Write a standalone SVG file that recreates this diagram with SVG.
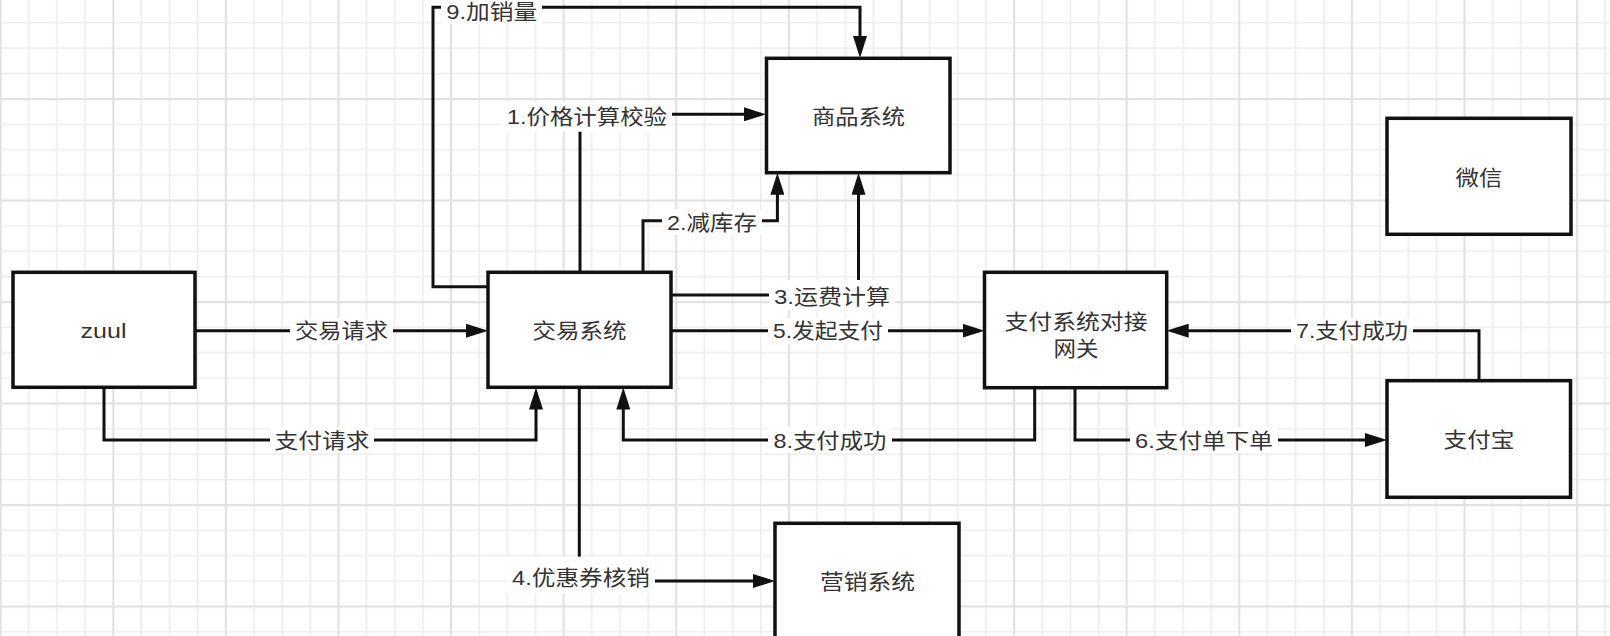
<svg xmlns="http://www.w3.org/2000/svg" width="1610" height="636" viewBox="0 0 1610 636">
<style>
.node rect{fill:#fff;stroke:#111;stroke-width:3.5}
.nt{font-family:"Liberation Sans","Noto Sans CJK SC",sans-serif;font-size:21px;fill:#333;text-anchor:middle;dominant-baseline:central}
.edge{fill:none;stroke:#111;stroke-width:3}
.lbg{fill:#fff}
.arrow{marker-end:url(#ah)}
</style>
<defs>
<pattern id="grid" patternUnits="userSpaceOnUse" x="-13.3" y="-15.5" width="112.6" height="101.5">
<g stroke="#ededed" stroke-width="1.6">
<line x1="42.15" y1="0" x2="42.15" y2="101.5"/>
<line x1="70.3" y1="0" x2="70.3" y2="101.5"/>
<line x1="98.45" y1="0" x2="98.45" y2="101.5"/>
<line x1="0" y1="38.375" x2="112.6" y2="38.375"/>
<line x1="0" y1="63.75" x2="112.6" y2="63.75"/>
<line x1="0" y1="89.125" x2="112.6" y2="89.125"/>
</g>
<g stroke="#e2e2e2" stroke-width="2.2">
<line x1="14" y1="0" x2="14" y2="101.5"/>
<line x1="0" y1="13" x2="112.6" y2="13"/>
</g>
</pattern>
<marker id="ah" markerUnits="userSpaceOnUse" markerWidth="22" markerHeight="14" refX="17" refY="7" orient="auto">
<path d="M0,0 L22,7 L0,14 z" fill="#111"/>
</marker>
</defs>
<rect x="0" y="0" width="1610" height="636" fill="#fff"/>
<rect x="0" y="0" width="1610" height="636" fill="url(#grid)"/>

<g id="connectors">
<path class="edge arrow" d="M195,330.7 H483"/>
<path class="edge arrow" d="M104,387.3 V440 H536 V392.5"/>
<path class="edge arrow" d="M488,286.7 H433 V7.3 H860 V53"/>
<path class="edge arrow" d="M580,272.5 V114.3 H761"/>
<path class="edge arrow" d="M643,272.5 V220.7 H777.4 V177.8"/>
<path class="edge arrow" d="M671,295 H858.5 V177.8"/>
<path class="edge arrow" d="M579.3,387.3 V581 H770"/>
<path class="edge arrow" d="M671,330.7 H979.5"/>
<path class="edge arrow" d="M1075,387.7 V440 H1382"/>
<path class="edge arrow" d="M1479,380.7 V330.7 H1171.7"/>
<path class="edge arrow" d="M1034.7,387.7 V440 H623.3 V392.5"/>

<rect class="lbg" x="290" y="318" width="103" height="26"/>
<text class="nt" x="341.5" y="330.7" textLength="93" lengthAdjust="spacingAndGlyphs">交易请求</text>
<rect class="lbg" x="270" y="427" width="104" height="26"/>
<text class="nt" x="322" y="440" textLength="95" lengthAdjust="spacingAndGlyphs">支付请求</text>
<rect class="lbg" x="441" y="0" width="101" height="24"/>
<text class="nt" x="491.8" y="11" textLength="91" lengthAdjust="spacingAndGlyphs">9.加销量</text>
<rect class="lbg" x="502" y="102" width="170" height="29.7"/>
<text class="nt" x="587" y="116.5" textLength="160" lengthAdjust="spacingAndGlyphs">1.价格计算校验</text>
<rect class="lbg" x="662" y="209" width="100" height="26"/>
<text class="nt" x="712" y="222" textLength="90" lengthAdjust="spacingAndGlyphs">2.减库存</text>
<rect class="lbg" x="769" y="280" width="126" height="30"/>
<text class="nt" x="832" y="296.5" textLength="116" lengthAdjust="spacingAndGlyphs">3.运费计算</text>
<rect class="lbg" x="506" y="556.7" width="149" height="37"/>
<text class="nt" x="581" y="577" textLength="138" lengthAdjust="spacingAndGlyphs">4.优惠券核销</text>
<rect class="lbg" x="768" y="318" width="120" height="26"/>
<text class="nt" x="828" y="330.7" textLength="110" lengthAdjust="spacingAndGlyphs">5.发起支付</text>
<rect class="lbg" x="1130" y="427" width="148" height="26"/>
<text class="nt" x="1204" y="440" textLength="138" lengthAdjust="spacingAndGlyphs">6.支付单下单</text>
<rect class="lbg" x="1291" y="318" width="122" height="26"/>
<text class="nt" x="1352" y="330.7" textLength="112" lengthAdjust="spacingAndGlyphs">7.支付成功</text>
<rect class="lbg" x="768" y="427" width="124" height="26"/>
<text class="nt" x="830" y="440" textLength="113" lengthAdjust="spacingAndGlyphs">8.支付成功</text>
</g>

<g id="node-zuul" class="node">
<rect x="13" y="272.3" width="182" height="115"/>
<text class="nt" x="103.5" y="330" textLength="46" lengthAdjust="spacingAndGlyphs">zuul</text>
</g>
<g id="node-trade" class="node">
<rect x="488" y="272.3" width="183" height="115"/>
<text class="nt" x="579.5" y="330" textLength="94" lengthAdjust="spacingAndGlyphs">交易系统</text>
</g>
<g id="node-goods" class="node">
<rect x="766.5" y="58.3" width="183.5" height="114.4"/>
<text class="nt" x="858.5" y="116" textLength="93" lengthAdjust="spacingAndGlyphs">商品系统</text>
</g>
<g id="node-wechat" class="node">
<rect x="1387" y="118.3" width="184" height="116"/>
<text class="nt" x="1479" y="177" textLength="47" lengthAdjust="spacingAndGlyphs">微信</text>
</g>
<g id="node-paygw" class="node">
<rect x="984.5" y="272.3" width="182.2" height="115.4"/>
<text class="nt" x="1076" y="321.7" textLength="143" lengthAdjust="spacingAndGlyphs">支付系统对接</text>
<text class="nt" x="1076" y="348.3" textLength="45" lengthAdjust="spacingAndGlyphs">网关</text>
</g>
<g id="node-alipay" class="node">
<rect x="1387" y="380.7" width="183.5" height="116.6"/>
<text class="nt" x="1479" y="439" textLength="71" lengthAdjust="spacingAndGlyphs">支付宝</text>
</g>
<g id="node-marketing" class="node">
<rect x="775" y="523.3" width="184" height="140"/>
<text class="nt" x="867.5" y="581" textLength="95" lengthAdjust="spacingAndGlyphs">营销系统</text>
</g>
</svg>
